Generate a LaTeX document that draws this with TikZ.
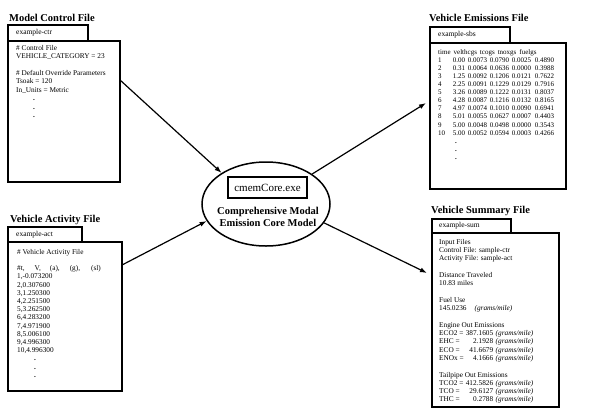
\documentclass[tikz,border=0pt]{standalone}
\usepackage{fontspec}
\setmainfont{Liberation Serif}
\usetikzlibrary{arrows.meta,shapes.geometric}

\newcommand{\bodyfont}{\fontsize{7.3}{8.4}\selectfont}
\newcommand{\ttlfont}{\fontsize{10.5}{12}\selectfont\bfseries}
\newcommand{\erow}[6]{\makebox[10pt][l]{#1}\makebox[17pt][r]{#2}\makebox[22pt][r]{#3}\makebox[22pt][r]{#4}\makebox[22pt][r]{#5}\makebox[23pt][r]{#6}}
\newcommand{\gm}[2]{\rlap{#1 =}\makebox[54pt][r]{#2}\hspace{2.5pt}\textit{(grams/mile)}}
\newcommand{\dotl}{\hspace*{17pt}{\bfseries .}}

\begin{document}
\begin{tikzpicture}[x=1pt,y=-1pt,
  filebox/.style={draw, line width=1.5pt, inner sep=0pt},
  ttl/.style={anchor=base west, inner sep=0pt, font=\ttlfont},
  tabtxt/.style={anchor=west, inner sep=0pt, font=\fontsize{7.5}{9}\selectfont},
  body/.style={anchor=north west, inner sep=0pt, align=left, font=\bodyfont},
  link/.style={line width=1.2pt, -{Latex[length=7pt,width=5pt]}}]
\useasboundingbox[fill=white] (0,0) rectangle (600,416);

% ---------- Model Control File ----------
\node[ttl] (ctrttl) at (9,21) {Model Control File};
\node[filebox, minimum width=80pt, minimum height=16pt] (ctrtab) at (48,33) {};
\node[tabtxt] (ctrtabtxt) at (16,33) {example-ctr};
\node[filebox, minimum width=112pt, minimum height=141pt] (ctr) at (64,111.5) {};
\node[body] (ctrtxt) at (16,45) {\# Control File\\
VEHICLE\_CATEGORY = 23\\[8.4pt]
\# Default Override Parameters\\
Tsoak = 120\\
In\_Units = Metric\\
\dotl\\ \dotl\\ \dotl};

% ---------- Vehicle Activity File ----------
\node[ttl] (actttl) at (10,222) {Vehicle Activity File};
\node[filebox, minimum width=74pt, minimum height=15pt] (acttab) at (45,234.5) {};
\node[tabtxt] (acttabtxt) at (16,234.5) {example-act};
\node[filebox, minimum width=114pt, minimum height=149pt] (act) at (65,316.5) {};
\node[body, font=\fontsize{7.3}{8.2}\selectfont] (acttxt) at (17,249) {\# Vehicle Activity File\\[8.2pt]
\#t,\hspace{10pt}V,\hspace{9pt}(a),\hspace{10pt}(g),\hspace{11pt}(sl)\\
1,-0.073200\\
2,0.307600\\
3,1.250300\\
4,2.251500\\
5,3.262500\\
6,4.283200\\
7,4.971900\\
8,5.006100\\
9,4.996300\\
10,4.996300\\
\dotl\\ \dotl\\ \dotl};

% ---------- Vehicle Emissions File ----------
\node[ttl] (sbsttl) at (429,21) {Vehicle Emissions File};
\node[filebox, minimum width=80pt, minimum height=16pt] (sbstab) at (470,35) {};
\node[tabtxt] (sbstabtxt) at (438,35) {example-sbs};
\node[filebox, minimum width=136pt, minimum height=146pt] (sbs) at (498,116) {};
\node[body, font=\fontsize{7}{8.1}\selectfont] (sbstxt) at (438,49) {time\hspace{3pt}velthcgs\hspace{3pt}tcogs\hspace{3pt}tnoxgs\hspace{3pt}fuelgs\\
\erow{1}{0.00}{0.0073}{0.0790}{0.0025}{0.4890}\\
\erow{2}{0.31}{0.0064}{0.0636}{0.0000}{0.3988}\\
\erow{3}{1.25}{0.0092}{0.1206}{0.0121}{0.7622}\\
\erow{4}{2.25}{0.0091}{0.1229}{0.0129}{0.7916}\\
\erow{5}{3.26}{0.0089}{0.1222}{0.0131}{0.8037}\\
\erow{6}{4.28}{0.0087}{0.1216}{0.0132}{0.8165}\\
\erow{7}{4.97}{0.0074}{0.1010}{0.0090}{0.6941}\\
\erow{8}{5.01}{0.0055}{0.0627}{0.0007}{0.4403}\\
\erow{9}{5.00}{0.0048}{0.0498}{0.0000}{0.3543}\\
\erow{10}{5.00}{0.0052}{0.0594}{0.0003}{0.4266}\\
\dotl\\ \dotl\\ \dotl};

% ---------- Vehicle Summary File ----------
\node[ttl] (sumttl) at (431,213) {Vehicle Summary File};
\node[filebox, minimum width=79pt, minimum height=14pt] (sumtab) at (471.5,226) {};
\node[tabtxt] (sumtabtxt) at (439,226) {example-sum};
\node[filebox, minimum width=127pt, minimum height=174pt] (sum) at (495.5,320) {};
\node[body, font=\fontsize{7.3}{8.3}\selectfont] (sumtxt) at (439,239) {Input Files\\
Control File: sample-ctr\\
Activity File: sample-act\\[8.3pt]
Distance Traveled\\
10.83 miles\\[8.3pt]
Fuel Use\\
145.0236\hspace{8pt}\textit{(grams/mile)}\\[8.3pt]
Engine Out Emissions\\
\gm{ECO2}{387.1605}\\
\gm{EHC}{2.1928}\\
\gm{ECO}{41.6679}\\
\gm{ENOx}{4.1666}\\[8.3pt]
Tailpipe Out Emissions\\
\gm{TCO2}{412.5826}\\
\gm{TCO}{29.6127}\\
\gm{THC}{0.2788}};

% ---------- Core model ----------
\node[draw, ellipse, line width=1.5pt, minimum width=128pt, minimum height=84pt, inner sep=0pt] (core) at (266,204) {};
\node[draw, line width=1.8pt, minimum width=79pt, minimum height=21pt, inner sep=0pt, font=\fontsize{11}{13}\selectfont] (exe) at (267.5,187.5) {cmemCore.exe};
\node[align=center, inner sep=0pt, font=\fontsize{10.5}{12}\selectfont\bfseries] (desc) at (268,217) {Comprehensive Modal\\Emission Core Model};

% ---------- Connectors ----------
\coordinate (c1) at (120,80);
\coordinate (a1) at (122,265);
\coordinate (e1) at (426,103);
\coordinate (s1) at (427,273);
\draw[link] (c1) -- (core.145);
\draw[link] (a1) -- (core.196);
\draw[link] (core.33) -- (e1);
\draw[link] (core.-18) -- (s1);
\end{tikzpicture}
\end{document}
